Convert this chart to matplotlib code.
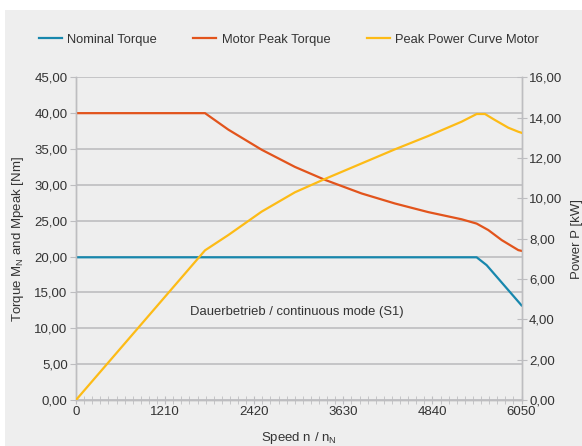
import numpy as np
import matplotlib
matplotlib.use('Agg')
import matplotlib.pyplot as plt
import matplotlib.patches as patches
from matplotlib.ticker import MultipleLocator, FuncFormatter

plt.rcParams['font.family'] = ['Liberation Sans', 'DejaVu Sans']

# Valori
nominal_speed = [0, 5441, 5577, 6050]
nominal_torque = [19.9, 19.9, 18.8, 13.2]

peak_speed = [0, 1752, 2069, 2521, 2974, 3381, 3879, 4332, 4784, 5237, 5441, 5599, 5781, 6007, 6050]
peak_torque = [40.0, 40.0, 37.7, 34.9, 32.5, 30.7, 28.8, 27.4, 26.2, 25.2, 24.6, 23.7, 22.3, 20.9, 20.8]

power_speed = [0, 1752, 2069, 2521, 2974, 3381, 3879, 4332, 4784, 5237, 5441, 5554, 5690, 5871, 6007, 6050]
power_kw = [0.0, 7.42, 8.18, 9.34, 10.3, 10.96, 11.73, 12.43, 13.09, 13.8, 14.18, 14.18, 13.88, 13.5, 13.3, 13.25]

x_ticks = [0, 1210, 2420, 3630, 4840, 6050]
series_names = ['Nominal Torque', 'Motor Peak Torque', 'Peak Power Curve Motor']

blue = '#1787ad'
orange = '#e2541c'
yellow = '#fdbb16'
grid_gray = '#bdbdc0'
text_col = '#333333'

fig = plt.figure(figsize=(5.82, 4.46), dpi=100)
# sfondo grigio
fig.patches.append(patches.Rectangle((5 / 582, 0), 1 - 5 / 582, 1 - 10 / 446,
                                     transform=fig.transFigure, facecolor='#eeeeee',
                                     edgecolor='none', zorder=-10))

ax = fig.add_axes([76 / 582, 1 - 400 / 446, (521.5 - 76) / 582, (400 - 77.3) / 446])
ax.patch.set_alpha(0)
ax2 = ax.twinx()
ax2.patch.set_alpha(0)

ax.set_xlim(0, 6050)
ax.set_ylim(0, 45)
ax2.set_ylim(0, 16)

ax.yaxis.set_major_locator(MultipleLocator(5))
ax2.yaxis.set_major_locator(MultipleLocator(2))
ax.set_xticks(x_ticks)
ax.xaxis.set_minor_locator(MultipleLocator(110))
fmt = FuncFormatter(lambda v, p: f'{v:.2f}'.replace('.', ','))
ax.yaxis.set_major_formatter(fmt)
ax2.yaxis.set_major_formatter(fmt)

ax.grid(axis='y', color=grid_gray, lw=1.2)
ax.set_axisbelow(True)

for a in (ax, ax2):
    for s in a.spines.values():
        s.set_color(grid_gray)
        s.set_linewidth(1)
    a.spines['top'].set_visible(False)
ax.tick_params(axis='y', direction='out', length=4, color=grid_gray, labelcolor=text_col, labelsize=9.5, pad=2)
ax.tick_params(axis='x', which='both', direction='inout', length=6, color=grid_gray, labelcolor=text_col, labelsize=9.5, pad=1)
ax2.tick_params(axis='y', direction='inout', length=7, color=grid_gray, labelcolor=text_col, labelsize=9.5, pad=2)

# curve
l1, = ax.plot(nominal_speed, nominal_torque, color=blue, lw=1.6, zorder=3, solid_joinstyle='round')
l2, = ax.plot(peak_speed, peak_torque, color=orange, lw=1.6, zorder=3, solid_joinstyle='round')
l3, = ax2.plot(power_speed, power_kw, color=yellow, lw=1.6, zorder=3, solid_joinstyle='round')

ax.text(3000, 12.3, 'Dauerbetrieb / continuous mode (S1)', ha='center', va='center',
        fontsize=9.4, color=text_col)

ax.set_ylabel('Torque M$_\\mathregular{N}$ and Mpeak [Nm]', fontsize=9.5, color=text_col, labelpad=6)
ax2.set_ylabel('Power P [kW]', fontsize=9.5, color=text_col, labelpad=6)
ax.set_xlabel('Speed n / n$_\\mathregular{N}$', fontsize=9.5, color=text_col, labelpad=9)

fig.legend([l1, l2, l3], series_names, loc='center left', bbox_to_anchor=(27 / 582, 1 - 40 / 446),
           ncol=3, frameon=False, fontsize=9.3, handlelength=1.8, handletextpad=0.42,
           columnspacing=2.8, labelcolor=text_col)

fig.savefig('out.png', dpi=100)
